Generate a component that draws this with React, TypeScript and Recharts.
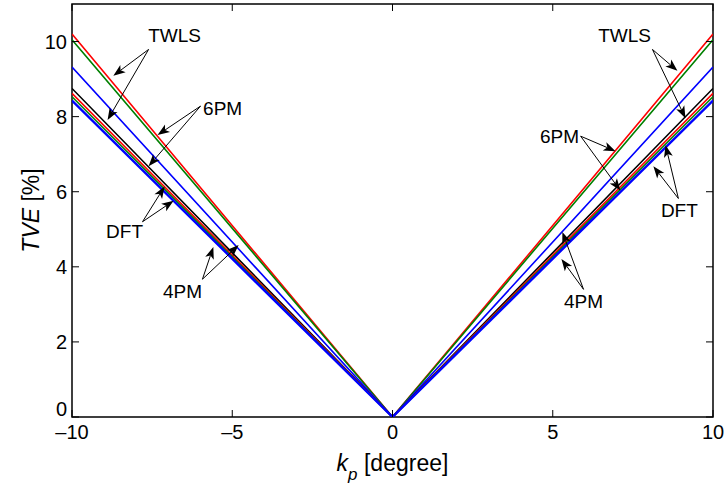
import React from 'react';
import { LineChart, Line, XAxis, YAxis, ReferenceArea, ReferenceLine, ReferenceDot } from 'recharts';

// ---- data ----
const kpValues = [-10, 0, 10];
const seriesKeys = ['twlsRed', 'twlsGreen', 'sixPmBlue', 'dftBlack', 'dftRed', 'fourPmGreen', 'fourPmBlue'];
const seriesColors = ['#ff0000', '#008000', '#0000ff', '#000000', '#ff0000', '#008000', '#0000ff'];
const tveAtMinus10 = [10.2, 10.05, 9.32, 8.75, 8.62, 8.53, 8.43];
const tveAtZero = [0, 0, 0, 0, 0, 0, 0];
const tveAtPlus10 = [10.2, 10.05, 9.32, 8.75, 8.62, 8.53, 8.43];
const xTicks = [-10, -5, 0, 5, 10];
const yTicks = [0, 2, 4, 6, 8, 10];

// annotation texts (data coordinates)
const noteTexts = ['TWLS', '6PM', 'DFT', '4PM', 'TWLS', '6PM', 'DFT', '4PM'];
const noteTextX = [-6.8, -5.3, -8.36, -6.55, 7.24, 5.21, 8.95, 5.96];
const noteTextY = [10.16, 8.23, 4.93, 3.35, 10.16, 7.48, 5.5, 3.08];
// arrow origins and tips (data coordinates), two arrows per annotation
const arrowFromX = [-7.61, -7.61, -5.99, -5.99, -7.8, -7.8, -5.93, -5.93, 8.11, 8.11, 5.87, 5.87, 8.92, 8.92, 5.96, 5.96];
const arrowFromY = [9.79, 9.79, 8.28, 8.28, 5.2, 5.2, 3.67, 3.67, 9.79, 9.79, 7.48, 7.48, 5.82, 5.82, 3.4, 3.4];
const arrowToX = [-8.71, -8.89, -7.33, -7.61, -7.11, -6.83, -5.59, -4.8, 8.89, 9.14, 6.96, 7.11, 8.52, 8.14, 5.3, 5.27];
const arrowToY = [9.09, 7.91, 7.51, 6.68, 6.14, 5.76, 4.53, 4.58, 9.22, 7.96, 7.08, 6.03, 7.24, 6.68, 4.93, 4.21];

const rows = kpValues.map((kp, i) => {
  const src = i === 0 ? tveAtMinus10 : i === 1 ? tveAtZero : tveAtPlus10;
  const r: Record<string, number> = { kp };
  seriesKeys.forEach((k, j) => (r[k] = src[j]));
  return r;
});

// ---- layout ----
const W = 727;
const H = 496;
const PLOT_LEFT = 72;
const PLOT_RIGHT = 713;
const PLOT_TOP = 4;
const PLOT_BOTTOM = 417;
const FONT = 'Liberation Sans, Arial, Helvetica, sans-serif';
const TICK_LEN = 7;

const XTick = (props: any) => {
  const { x, y, payload } = props;
  const v = payload.value;
  const label = v < 0 ? '\u2013' + Math.abs(v) : String(v);
  return (
    <g>
      <line x1={x} y1={PLOT_BOTTOM} x2={x} y2={PLOT_BOTTOM - TICK_LEN} stroke="#000" strokeWidth={1} />
      <line x1={x} y1={PLOT_TOP} x2={x} y2={PLOT_TOP + TICK_LEN} stroke="#000" strokeWidth={1} />
      <text x={x} y={y + 22} textAnchor="middle" fontFamily={FONT} fontSize={20} fill="#000">
        {label}
      </text>
    </g>
  );
};

const YTick = (props: any) => {
  const { y, payload } = props;
  const shift = payload.value === 0 ? -8 : 0;
  return (
    <g>
      <line x1={PLOT_LEFT} y1={y} x2={PLOT_LEFT + TICK_LEN} y2={y} stroke="#000" strokeWidth={1} />
      <line x1={PLOT_RIGHT} y1={y} x2={PLOT_RIGHT - TICK_LEN} y2={y} stroke="#000" strokeWidth={1} />
      <text x={PLOT_LEFT - 5} y={y + shift} textAnchor="end" dominantBaseline="central" fontFamily={FONT} fontSize={20} fill="#000">
        {payload.value}
      </text>
    </g>
  );
};

const XLabel = () => (
  <text x={(PLOT_LEFT + PLOT_RIGHT) / 2} y={PLOT_BOTTOM + 54} textAnchor="middle" fontFamily={FONT} fontSize={23} fill="#000">
    <tspan fontStyle="italic">k</tspan>
    <tspan fontStyle="italic" fontSize={17} dy={9}>p</tspan>
    <tspan dy={-9}> [degree]</tspan>
  </text>
);

const YLabel = () => {
  const cx = 31;
  const cy = (PLOT_TOP + PLOT_BOTTOM) / 2;
  return (
    <text
      x={cx}
      y={cy}
      transform={`rotate(-90, ${cx}, ${cy})`}
      textAnchor="middle"
      dominantBaseline="central"
      fontFamily={FONT}
      fontSize={23}
      fill="#000"
    >
      <tspan fontStyle="italic">TVE</tspan>
      <tspan> [%]</tspan>
    </text>
  );
};

const ArrowShape = (props: any) => {
  const { x1, y1, x2, y2 } = props;
  const dx = x2 - x1;
  const dy = y2 - y1;
  const len = Math.hypot(dx, dy) || 1;
  const ux = dx / len;
  const uy = dy / len;
  const px = -uy;
  const py = ux;
  const L = 12;
  const HW = 4.5;
  const N = 9;
  const bx = x2 - ux * L;
  const by = y2 - uy * L;
  const nx = x2 - ux * N;
  const ny = y2 - uy * N;
  const pts = `${x2},${y2} ${bx + px * HW},${by + py * HW} ${nx},${ny} ${bx - px * HW},${by - py * HW}`;
  return (
    <g>
      <line x1={x1} y1={y1} x2={nx} y2={ny} stroke="#000" strokeWidth={1} />
      <polygon points={pts} fill="#000" />
    </g>
  );
};

const makeTextShape = (txt: string) => (props: any) => (
  <text x={props.cx} y={props.cy} textAnchor="middle" dominantBaseline="central" fontFamily={FONT} fontSize={19} fill="#000">
    {txt}
  </text>
);

export default function App() {
  return (
    <div style={{ position: 'absolute', left: 0, top: 0, width: W, height: H, background: '#fff' }}>
      <LineChart width={W} height={H} data={rows} margin={{ top: PLOT_TOP, right: W - PLOT_RIGHT, bottom: 0, left: 0 }}>
        <XAxis
          dataKey="kp"
          type="number"
          domain={[-10, 10]}
          ticks={xTicks}
          allowDataOverflow
          height={H - PLOT_BOTTOM}
          axisLine={false}
          tickLine={false}
          tickSize={0}
          tickMargin={0}
          tick={XTick}
          label={XLabel}
          interval={0}
        />
        <YAxis
          type="number"
          domain={[0, 11]}
          ticks={yTicks}
          allowDataOverflow
          width={PLOT_LEFT}
          axisLine={false}
          tickLine={false}
          tickSize={0}
          tickMargin={0}
          tick={YTick}
          label={YLabel}
          interval={0}
        />
        <ReferenceArea x1={-10} x2={10} y1={0} y2={11} fill="none" stroke="#000" strokeWidth={1.5} ifOverflow="visible" />
        {seriesKeys.map((k, i) => (
          <Line
            key={k}
            dataKey={k}
            type="linear"
            stroke={seriesColors[i]}
            strokeWidth={i === seriesKeys.length - 1 ? 2.4 : 1.6}
            dot={false}
            activeDot={false}
            isAnimationActive={false}
          />
        ))}
        {arrowFromX.map((_, i) => (
          <ReferenceLine
            key={'arrow' + i}
            segment={[
              { x: arrowFromX[i], y: arrowFromY[i] },
              { x: arrowToX[i], y: arrowToY[i] },
            ]}
            shape={ArrowShape}
            ifOverflow="visible"
          />
        ))}
        {noteTexts.map((t, i) => (
          <ReferenceDot
            key={'note' + i}
            x={noteTextX[i]}
            y={noteTextY[i]}
            r={0}
            shape={makeTextShape(t)}
            ifOverflow="visible"
          />
        ))}
      </LineChart>
    </div>
  );
}
